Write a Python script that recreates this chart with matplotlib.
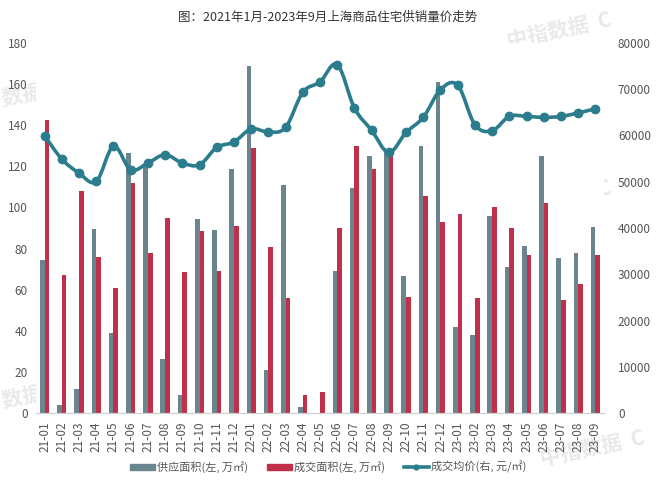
import matplotlib
matplotlib.use('Agg')
import matplotlib.pyplot as plt
from matplotlib.path import Path
from matplotlib.patches import PathPatch
from matplotlib.lines import Line2D
from matplotlib.patches import Patch
import numpy as np

plt.rcParams['font.family'] = ['Noto Sans CJK SC', 'DejaVu Sans']

months = ['21-01', '21-02', '21-03', '21-04', '21-05', '21-06', '21-07', '21-08', '21-09',
          '21-10', '21-11', '21-12', '22-01', '22-02', '22-03', '22-04', '22-05', '22-06',
          '22-07', '22-08', '22-09', '22-10', '22-11', '22-12', '23-01', '23-02', '23-03',
          '23-04', '23-05', '23-06', '23-07', '23-08', '23-09']

# 供应面积 (万㎡)
supply = [74.5, 4, 11.5, 89.5, 39, 126.5, 121, 26.5, 9, 94.5, 89, 118.5, 169, 21, 111, 3, 0,
          69, 109.5, 125, 128, 66.5, 130, 161, 42, 38, 96, 71, 81, 125, 75.5, 78, 90.5]
# 成交面积 (万㎡)
deal = [142.7, 67.3, 108, 76, 61, 112, 78, 95, 68.5, 88.7, 69.3, 91, 129, 80.7, 56, 9, 10.4,
        90, 130, 118.5, 127, 56.5, 105.5, 93, 97, 56, 100, 90, 77, 102, 55, 63, 77]
# 成交均价 (元/㎡)
price = [59960, 54900, 51880, 50070, 57640, 52600, 54050, 55840, 54050, 53680, 57420, 58590,
         61400, 60760, 61760, 69330, 71580, 75320, 65950, 61100, 56340, 60670, 63920, 69910,
         70850, 62340, 61040, 64130, 64130, 63920, 64130, 64870, 65800]

grey = '#6b858e'
red = '#c0304a'
teal = '#2b7c8c'
txt = '#555555'


def smooth_path(xs, ys, k=0.35):
    # bezier curve through the points, echarts-like smoothing
    verts = [(xs[0], ys[0])]
    codes = [Path.MOVETO]
    n = len(xs)
    for i in range(n - 1):
        x0, y0 = xs[max(i - 1, 0)], ys[max(i - 1, 0)]
        x1, y1 = xs[i], ys[i]
        x2, y2 = xs[i + 1], ys[i + 1]
        x3, y3 = xs[min(i + 2, n - 1)], ys[min(i + 2, n - 1)]
        c1 = (x1 + (x2 - x0) * k / 2, y1 + (y2 - y0) * k / 2)
        c2 = (x2 - (x3 - x1) * k / 2, y2 - (y3 - y1) * k / 2)
        verts += [c1, c2, (x2, y2)]
        codes += [Path.CURVE4] * 3
    return Path(verts, codes)


fig = plt.figure(figsize=(6.56, 4.8), dpi=100)
ax = fig.add_axes([36 / 656, 1 - 413 / 480, 568 / 656, 370 / 480])
ax2 = ax.twinx()

x = np.arange(len(months))
w = 0.27
ax.bar(x - w / 2, supply, w, color=grey, zorder=2)
ax.bar(x + w / 2, deal, w, color=red, zorder=2)

ax.set_xlim(-0.5, len(months) - 0.5)
ax.set_ylim(0, 180)
ax.set_yticks(range(0, 181, 20))
ax.set_xticks(x)
ax.set_xticklabels(months, rotation=90)

ax2.set_ylim(0, 80000)
ax2.set_yticks(range(0, 80001, 10000))
ax2.add_patch(PathPatch(smooth_path(list(x), price), facecolor='none', edgecolor=teal,
                        lw=2.6, zorder=3))
ax2.plot(x, price, 'o', color=teal, ms=6, zorder=4)

for a in (ax, ax2):
    for s in ('top', 'left', 'right'):
        a.spines[s].set_visible(False)
    a.spines['bottom'].set_color('#d0d0d0')
    a.tick_params(length=0, colors=txt, labelsize=8.5)
ax.tick_params(axis='y', pad=6)
ax2.tick_params(axis='y', pad=10)
ax.tick_params(axis='x', pad=6)
ax.set_zorder(1)
ax2.set_zorder(2)
ax2.patch.set_visible(False)

# watermarks
for wx, wy, s in [(0.0, 0.78, '数据  CREIS'), (0.34, 0.70, '中指数据'), (0.77, 0.90, '中指数据  C'),
                  (0.0, 0.15, '数据  CREIS'), (0.34, 0.38, '中指数据'), (0.77, 0.55, '中指数据  C'),
                  (0.82, 0.03, '中指数据  C')]:
    fig.text(wx, wy, s, fontsize=15, color='#b0b0b0', alpha=0.28, rotation=12,
             fontweight='bold', zorder=0)

fig.text(0.5, 1 - 17 / 480, '图：2021年1月-2023年9月上海商品住宅供销量价走势',
         ha='center', va='center', fontsize=9, color='#333333')

handles = [Patch(color=grey), Patch(color=red),
           Line2D([0], [0], color=teal, lw=2.6, marker='o', ms=3.5)]
labels = ['供应面积(左, 万㎡)', '成交面积(左, 万㎡)', '成交均价(右, 元/㎡)']
fig.legend(handles, labels, loc='center', bbox_to_anchor=(0.5, 1 - 467 / 480), ncol=3,
           frameon=False, fontsize=8, labelcolor=txt, handlelength=2.25, handleheight=0.5,
           handletextpad=0.2, columnspacing=1.7)

fig.savefig('out.png', dpi=100)
